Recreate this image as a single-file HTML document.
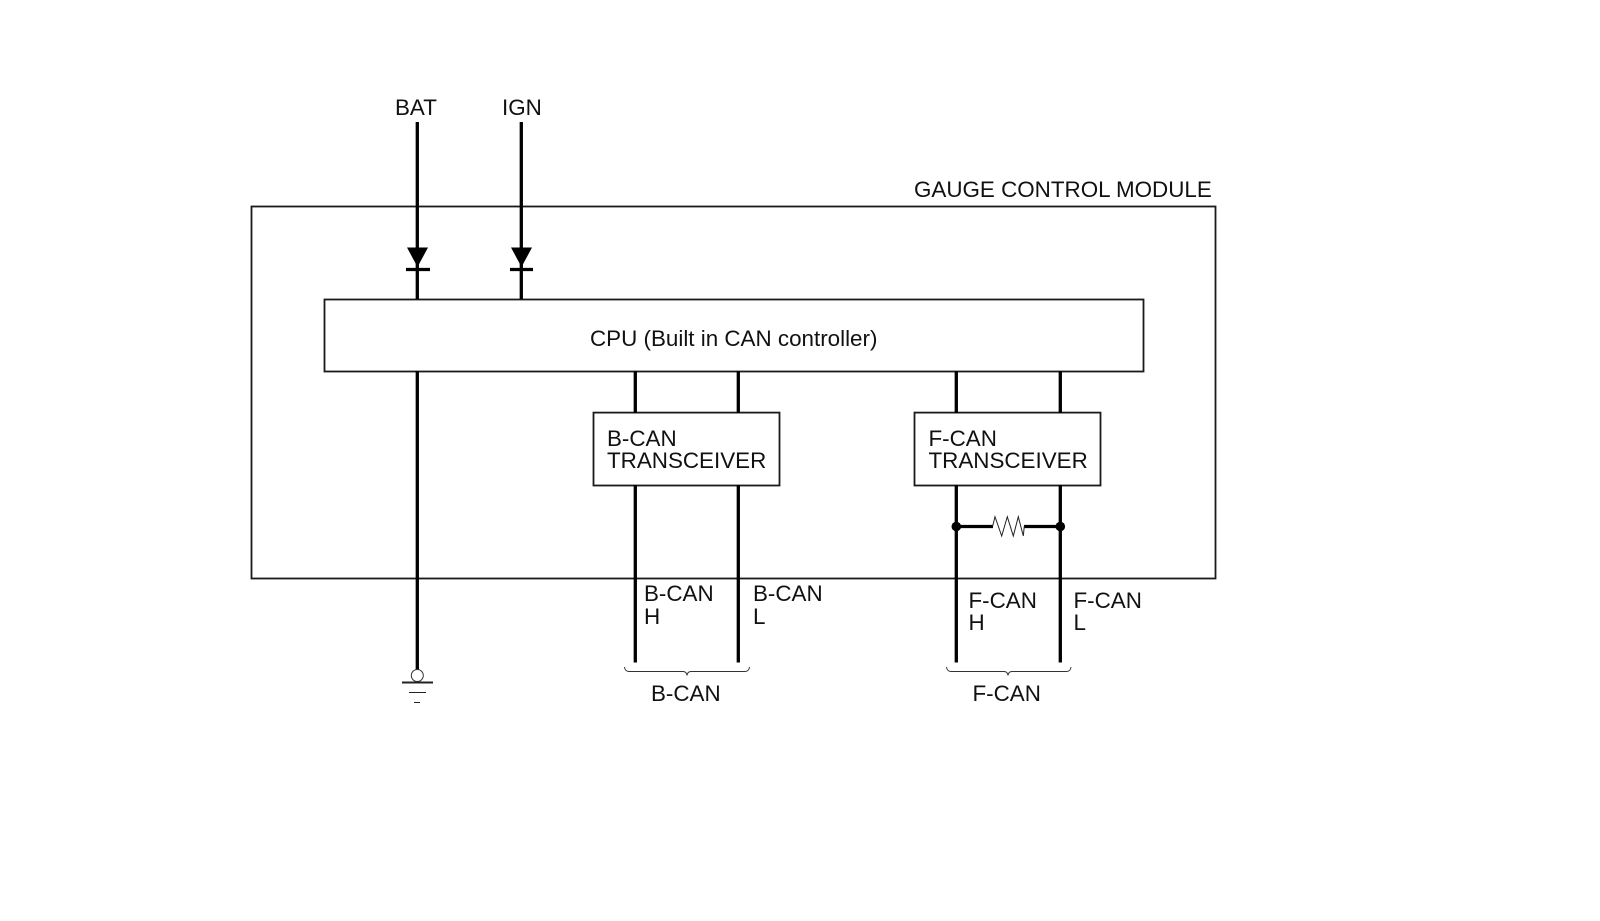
<!DOCTYPE html>
<html>
<head>
<meta charset="utf-8">
<style>
html,body{margin:0;padding:0;background:#fff}
svg{display:block}
text{font-family:"Liberation Sans",Arial,sans-serif;font-size:22.4px;fill:#111}
</style>
</head>
<body>
<svg width="1600" height="921" viewBox="0 0 1600 921" xmlns="http://www.w3.org/2000/svg">
<rect width="1600" height="921" fill="#fff"/>
<g fill="none" stroke="#1a1a1a" stroke-width="1.8">
<rect x="251.5" y="206.5" width="964" height="372"/>
<rect x="324.5" y="299.5" width="819" height="72" fill="#fff"/>
<rect x="593.5" y="412.6" width="186" height="72.9" fill="#fff"/>
<rect x="914.5" y="412.6" width="186" height="72.9" fill="#fff"/>
</g>
<g stroke="#000" stroke-width="3.3" fill="none">
<path d="M417.3 122V299M521.3 122V299"/>
<path d="M417.3 371V670"/>
<path d="M635.3 371V413M738.3 371V413M956.3 371V413M1060.3 371V413"/>
<path d="M635.3 485V662.5M738.3 485V662.5M956.3 485V662.5M1060.3 485V662.5"/>
<path d="M956.3 526.5H993M1024 526.5H1060.3"/>
<path d="M406 269.5H430M510 269.5H533"/>
</g>
<path d="M407 247.5H428L417.5 267Z" fill="#000"/>
<path d="M511 247.5H532L521.5 267Z" fill="#000"/>
<circle cx="956.3" cy="526.5" r="4.8" fill="#000"/>
<circle cx="1060.3" cy="526.5" r="4.8" fill="#000"/>
<polyline points="992.7,526 995,516.7 1001.7,536 1007.3,516.7 1013.3,536 1018.3,516.7 1023.3,536 1024.3,526" fill="none" stroke="#222" stroke-width="1"/>
<circle cx="417.3" cy="675.5" r="6" fill="#fff" stroke="#333" stroke-width="1"/>
<g stroke="#222" fill="none">
<path d="M402 682.5H433" stroke-width="2"/>
<path d="M409 692.5H426" stroke-width="1"/>
<path d="M414 702.5H420" stroke-width="1"/>
</g>
<g fill="none" stroke="#333" stroke-width="1">
<path d="M624.5 667Q625 671.5 629 671.5H683Q686.5 671.5 687 675.5Q687.5 671.5 691 671.5H745Q749 671.5 749.5 667"/>
<path d="M946.5 667Q947 671.5 951 671.5H1004Q1007.5 671.5 1008 675.5Q1008.5 671.5 1012 671.5H1066.5Q1070.5 671.5 1071 667"/>
</g>
<text x="395" y="115">BAT</text>
<text x="502" y="115">IGN</text>
<text x="914" y="197">GAUGE CONTROL MODULE</text>
<text x="590" y="346">CPU (Built in CAN controller)</text>
<text x="607" y="446">B-CAN</text>
<text x="607" y="468">TRANSCEIVER</text>
<text x="928.5" y="446">F-CAN</text>
<text x="928.5" y="468">TRANSCEIVER</text>
<text x="644" y="601">B-CAN</text>
<text x="644" y="624">H</text>
<text x="753" y="601">B-CAN</text>
<text x="753" y="624">L</text>
<text x="968.5" y="608">F-CAN</text>
<text x="968.5" y="630">H</text>
<text x="1073.5" y="608">F-CAN</text>
<text x="1073.5" y="630">L</text>
<text x="651" y="701">B-CAN</text>
<text x="972.5" y="701">F-CAN</text>
</svg>
</body>
</html>
